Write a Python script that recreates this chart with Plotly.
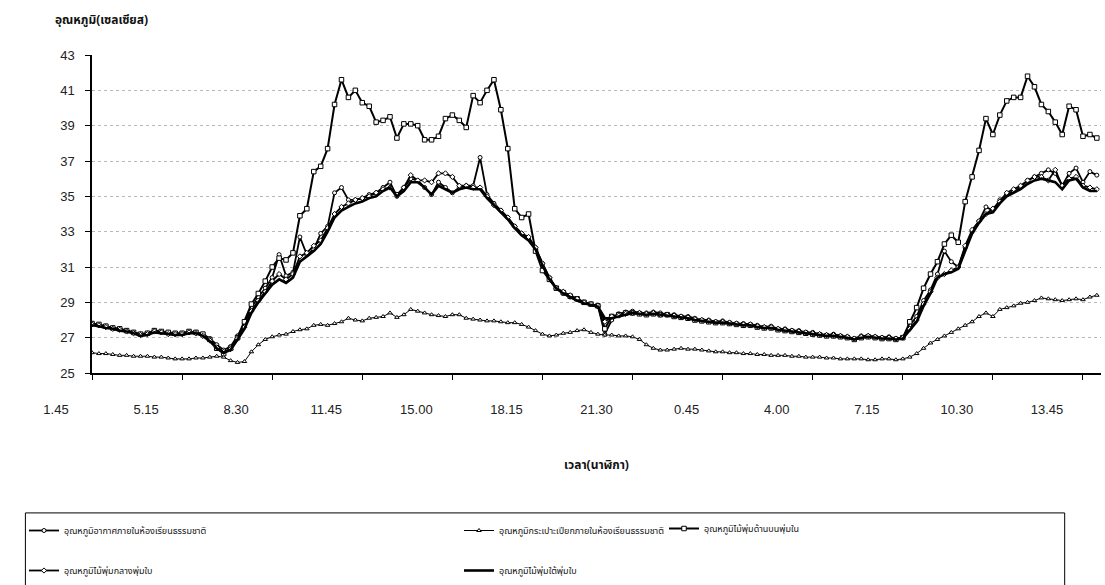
import plotly.graph_objects as go

# ---------------- data (one reading every 15 min, category index) ----------------
tick_labels = ["1.45", "5.15", "8.30", "11.45", "15.00", "18.15",
               "21.30", "0.45", "4.00", "7.15", "10.30", "13.45"]
tick_every = 13  # categories between labelled ticks

names = [
    "อุณหภูมิอากาศภายในห้องเรียนธรรมชาติ",
    "อุณหภูมิกระเปาะเปียกภายในห้องเรียนธรรมชาติ",
    "อุณหภูมิไม้พุ่มด้านบนพุ่มใน",
    "อุณหภูมิไม้พุ่มกลางพุ่มใบ",
    "อุณหภูมิไม้พุ่มใต้พุ่มใบ",
]

air_temp = [
    27.8, 27.7, 27.65, 27.55, 27.5, 27.4, 27.3, 27.2, 27.25, 27.4, 27.3, 27.3, 27.2, 27.25, 27.35, 27.3, 27.2, 26.95, 26.6, 26.3, 26.5, 27.1,
    27.8, 28.7, 29.3, 29.8, 30.4, 31.7, 30.5, 30.7, 32.7, 31.7, 32.0, 32.9, 33.3,
    35.2, 35.5, 34.8, 34.8, 34.9, 35.1, 35.2, 35.5, 35.8, 35.0, 35.5,
    36.0, 35.9, 35.5, 35.1, 35.8, 35.5, 35.2, 35.5, 35.6, 35.6, 37.2,
    35.1, 34.6, 34.2, 33.8, 33.3, 32.9, 32.6, 32.1, 31.2, 30.4, 29.8, 29.5, 29.3, 29.2, 29.0, 28.9, 28.8,
    27.2,
    28.0, 28.35, 28.45, 28.5, 28.4, 28.4, 28.45, 28.4, 28.3, 28.3, 28.2, 28.2, 28.1, 28.0, 28.0, 27.9, 27.95, 27.85, 27.8, 27.8, 27.75,
    27.7, 27.6, 27.65, 27.5, 27.5, 27.4, 27.4, 27.3, 27.3, 27.2, 27.15, 27.2, 27.1, 27.05, 26.95, 27.1, 27.1, 27.05, 27.0, 27.05, 26.95, 27.0,
    27.7, 28.2, 29.1, 29.7, 30.6, 31.9, 31.3, 31.0, 32.1, 33.0, 33.6, 34.4, 34.2, 34.8, 35.1, 35.3, 35.5, 35.9, 36.1, 36.3, 36.5, 36.3,
    35.6, 36.3, 36.6, 35.8, 36.4, 36.2,
]

wet_bulb = [
    26.15, 26.1, 26.1, 26.05, 26.0, 26.0, 25.95, 25.95, 25.95, 25.9, 25.9, 25.85, 25.8, 25.8, 25.8, 25.85, 25.85, 25.9, 25.95, 25.9, 25.7, 25.6,
    25.65, 26.2, 26.6, 26.9, 27.05, 27.15, 27.2, 27.35, 27.45, 27.5, 27.7, 27.75, 27.7, 27.8, 27.9, 28.1, 28.0, 27.95, 28.1, 28.15,
    28.2, 28.4, 28.15, 28.3, 28.6, 28.5, 28.4, 28.3, 28.25, 28.2, 28.3, 28.3, 28.1, 28.05, 28.0, 27.95, 27.95, 27.9, 27.85, 27.85,
    27.75, 27.6, 27.4, 27.2, 27.1, 27.15, 27.25, 27.3, 27.4, 27.45, 27.3, 27.2,
    27.15, 27.15, 27.1, 27.1, 27.05, 26.9, 26.6, 26.4, 26.3, 26.3, 26.35, 26.4, 26.35, 26.35, 26.3, 26.25, 26.2, 26.2, 26.15, 26.15, 26.1, 26.1,
    26.05, 26.05, 26.0, 26.0, 26.0, 25.95, 25.95, 25.9, 25.9, 25.9, 25.85, 25.85, 25.8, 25.8, 25.8, 25.8, 25.75, 25.75, 25.8, 25.8, 25.75, 25.8,
    25.9, 26.1, 26.4, 26.7, 26.9, 27.1, 27.3, 27.5, 27.7, 27.9, 28.2, 28.4, 28.2, 28.6, 28.7, 28.8, 28.95, 29.0, 29.1, 29.25, 29.2, 29.15,
    29.1, 29.15, 29.2, 29.15, 29.3, 29.4,
]

shrub_top = [
    27.8, 27.75, 27.65, 27.55, 27.5, 27.4, 27.3, 27.2, 27.25, 27.4, 27.35, 27.3, 27.25, 27.25, 27.35, 27.3, 27.2, 26.9, 26.4, 26.1, 26.4, 27.0,
    27.9, 28.9, 29.5, 30.2, 31.0, 31.5, 31.4, 31.8, 33.9, 34.3, 36.4, 36.7, 37.7,
    40.2, 41.6, 40.6, 41.0, 40.3, 40.1, 39.2, 39.3, 39.5, 38.3, 39.1, 39.1, 39.0, 38.2, 38.2, 38.4, 39.4, 39.6, 39.3, 38.9,
    40.7, 40.3, 41.0, 41.6, 39.9, 37.7, 34.3, 33.8, 34.0, 31.9, 30.8, 30.3, 29.8, 29.55, 29.35, 29.2, 29.0, 28.9, 28.8,
    27.5,
    28.2, 28.3, 28.4, 28.4, 28.35, 28.3, 28.35, 28.3, 28.3, 28.2, 28.15, 28.1, 28.0, 27.95, 27.9, 27.85, 27.85, 27.8, 27.75, 27.7, 27.7,
    27.6, 27.55, 27.55, 27.45, 27.4, 27.35, 27.3, 27.25, 27.2, 27.15, 27.1, 27.1, 27.05, 27.0, 26.9, 27.0, 27.05, 27.0, 26.95, 26.95, 26.9, 27.0,
    27.9, 28.7, 29.8, 30.6, 31.3, 32.3, 32.8, 32.4, 34.7, 36.1, 37.6, 39.4, 38.5, 39.6, 40.4, 40.6, 40.6, 41.8, 41.2, 40.2, 39.8, 39.2,
    38.5, 40.1, 39.9, 38.4, 38.5, 38.3,
]

shrub_mid = [
    27.75, 27.7, 27.6, 27.5, 27.45, 27.35, 27.25, 27.15, 27.2, 27.35, 27.3, 27.2, 27.2, 27.2, 27.3, 27.25, 27.1, 26.85, 26.45, 26.2, 26.35, 26.95,
    27.6, 28.5, 29.1, 29.6, 30.2, 30.6, 30.3, 30.6, 31.6, 31.8, 32.2, 32.5, 33.2,
    34.0, 34.4, 34.6, 34.8, 34.9, 35.0, 35.2, 35.4, 35.5, 35.1, 35.5,
    36.2, 35.9, 35.9, 35.8, 36.3, 36.3, 36.1, 35.6, 35.6, 35.5, 35.5,
    35.0, 34.5, 34.2, 33.8, 33.3, 32.9, 32.7, 32.1, 31.2, 30.4, 29.8, 29.6, 29.4, 29.2, 29.0, 28.9, 28.8,
    27.9,
    28.2, 28.25, 28.35, 28.4, 28.4, 28.35, 28.4, 28.3, 28.3, 28.25, 28.2, 28.15, 28.05, 28.0, 27.95, 27.9, 27.9, 27.85, 27.8, 27.75, 27.75,
    27.65, 27.6, 27.6, 27.5, 27.45, 27.4, 27.35, 27.3, 27.25, 27.2, 27.15, 27.15, 27.1, 27.05, 26.95, 27.05, 27.1, 27.05, 27.0, 27.0, 26.95, 27.0,
    27.5, 28.0, 28.9, 29.6, 30.4, 30.6, 30.8, 31.0, 32.2, 33.1, 33.6, 34.0, 34.3, 34.7, 35.2, 35.4, 35.6, 35.9, 36.1, 36.1, 35.9, 36.5,
    35.6, 36.0, 36.1, 35.6, 35.5, 35.4,
]

shrub_low = [
    27.7, 27.65, 27.55, 27.5, 27.4, 27.35, 27.25, 27.1, 27.15, 27.3, 27.25, 27.2, 27.15, 27.15, 27.25, 27.25, 27.1, 26.8, 26.4, 26.15, 26.3, 26.9,
    27.5, 28.4, 29.0, 29.5, 30.0, 30.3, 30.1, 30.4, 31.3, 31.6, 31.9, 32.3, 33.0,
    33.8, 34.2, 34.4, 34.6, 34.7, 34.9, 35.0, 35.3, 35.5, 35.0, 35.3,
    35.8, 35.8, 35.5, 35.1, 35.6, 35.4, 35.2, 35.4, 35.5, 35.4, 35.4,
    34.9, 34.5, 34.1, 33.7, 33.2, 32.8, 32.5, 32.0, 31.1, 30.3, 29.8, 29.5, 29.3, 29.1, 28.95, 28.85, 28.75,
    28.1,
    28.1, 28.2, 28.3, 28.4, 28.35, 28.3, 28.35, 28.3, 28.25, 28.2, 28.15, 28.1, 28.0, 27.95, 27.9, 27.85, 27.85, 27.8, 27.75, 27.7, 27.7,
    27.6, 27.55, 27.55, 27.45, 27.4, 27.35, 27.3, 27.25, 27.2, 27.15, 27.1, 27.1, 27.05, 27.0, 26.9, 27.0, 27.05, 27.0, 26.95, 26.95, 26.9, 26.95,
    27.4, 27.9, 28.8, 29.5, 30.4, 30.6, 30.7, 30.9, 31.9, 32.9, 33.5, 34.0, 34.1, 34.6, 35.0, 35.2, 35.4, 35.7, 35.9, 36.0, 35.9, 35.8,
    35.4, 35.9, 36.0, 35.5, 35.3, 35.3,
]

# ---------------- figure ----------------
W, H = 1105, 585
idx = list(range(len(air_temp)))
tickvals = [k * tick_every for k in range(len(tick_labels))]

THAI = "Noto Sans Thai, Tahoma, Leelawadee UI, Garuda, Loma, sans-serif"
NUM = "Arial, Liberation Sans, sans-serif"

styles = [
    # name index, data, line width, marker symbol, marker size, legend, group
    (0, air_temp, 1.8, "circle", 4, "legend", "a"),
    (1, wet_bulb, 1.0, "triangle-up", 4, "legend2", "b"),
    (2, shrub_top, 2.0, "square", 4.5, "legend3", "c"),
    (3, shrub_mid, 1.8, "diamond", 4, "legend", "d"),
    (4, shrub_low, 2.6, None, 0, "legend2", "e"),
]

fig = go.Figure()
for ni, data, lw, sym, ms, leg, grp in styles:
    kw = dict(x=idx, y=data, name=names[ni], legend=leg, legendgroup=grp,
              line=dict(color="black", width=lw))
    if sym:
        kw["mode"] = "lines+markers"
        kw["marker"] = dict(symbol=sym, size=ms, color="white",
                            line=dict(color="black", width=1))
    else:
        kw["mode"] = "lines"
    fig.add_trace(go.Scatter(**kw))

legend_common = dict(xref="container", yref="container",
                     yanchor="bottom", xanchor="left", orientation="v",
                     traceorder="grouped", tracegroupgap=21,
                     bgcolor="rgba(0,0,0,0)", borderwidth=0,
                     font=dict(family=THAI, size=9, color="#111"))

fig.update_layout(
    width=W, height=H,
    margin=dict(l=92, r=4, t=55, b=212, autoexpand=False),
    paper_bgcolor="white", plot_bgcolor="white",
    showlegend=True,
    legend=dict(x=24 / W, y=0.0, **legend_common),
    legend2=dict(x=459 / W, y=0.0, **legend_common),
    legend3=dict(x=664 / W, y=42 / H, **legend_common),
    xaxis=dict(range=[0, 145.6], tickmode="array", tickvals=tickvals, ticktext=tick_labels,
               ticks="outside", ticklen=5, tickcolor="black", showgrid=False, zeroline=False,
               showline=True, linecolor="black", linewidth=1.5,
               ticklabelstandoff=19, ticklabelshift=-36,
               tickfont=dict(family=NUM, size=13, color="#222")),
    yaxis=dict(range=[25, 43], dtick=2, tick0=25,
               ticks="outside", ticklen=5, tickcolor="black",
               showgrid=True, gridcolor="#b8b8b8", griddash="dot", gridwidth=1,
               zeroline=False, showline=True, linecolor="black", linewidth=1.5,
               ticklabelstandoff=8,
               tickfont=dict(family=NUM, size=13, color="#222")),
    annotations=[
        dict(text="<b>อุณหภูมิ(เซลเซียส)</b>", xref="paper", yref="paper",
             x=-0.039, y=1.11, xanchor="left", yanchor="middle", showarrow=False,
             font=dict(family=THAI, size=12, color="#111")),
        dict(text="<b>เวลา(นาฬิกา)</b>", xref="paper", yref="paper",
             x=0.5, y=-0.29, xanchor="center", yanchor="middle", showarrow=False,
             font=dict(family=THAI, size=12, color="#111")),
    ],
    shapes=[
        dict(type="rect", xref="paper", yref="paper",
             x0=-0.066, x1=0.964, y0=-0.44, y1=-0.75,
             line=dict(color="black", width=1), fillcolor="rgba(0,0,0,0)", layer="below"),
    ],
)

fig.write_html("out.html")
